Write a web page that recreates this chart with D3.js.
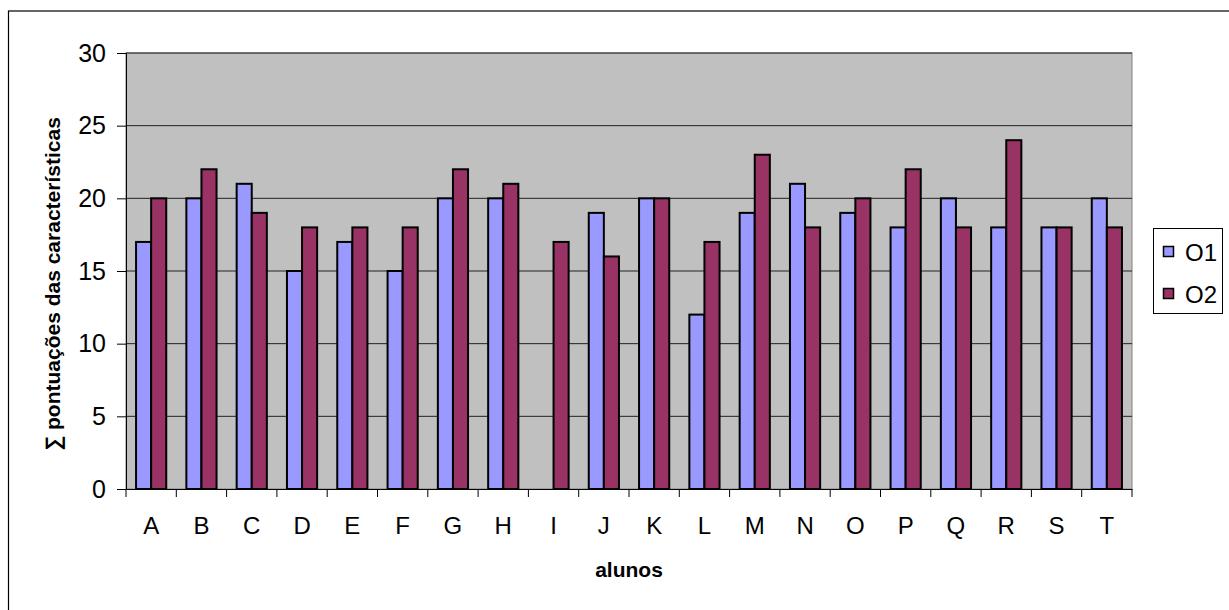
<!DOCTYPE html>
<html><head><meta charset="utf-8">
<script src="https://cdn.jsdelivr.net/npm/d3@7"></script>
<style>body{margin:0;background:#fff}svg{display:block}text{font-family:"Liberation Sans",Arial,sans-serif}</style>
</head><body><svg id="c" width="1229" height="610"></svg>
<script>
const categories = ["A","B","C","D","E","F","G","H","I","J","K","L","M","N","O","P","Q","R","S","T"];
const seriesNames = ["O1","O2"];
const o1 = [17,20,21,15,17,15,20,20,0,19,20,12,19,21,19,18,20,18,18,20];
const o2 = [20,22,19,18,18,18,22,21,17,16,20,17,23,18,20,22,18,24,18,18];
const yTicks = [0,5,10,15,20,25,30];
const colors = ["#9999FF","#993366"];
const yTitle = "∑ pontuações das características";
const xTitle = "alunos";

const svg = d3.select("#c");
svg.append("rect").attr("x",8.5).attr("y",11).attr("width",1230).attr("height",620)
  .attr("fill","#fff").attr("stroke","#000").attr("stroke-width",1.2);

const L=126, R=1132, T=53, B=489;
const x = d3.scaleBand().domain(categories).range([L,R]).paddingInner(0.4).paddingOuter(0.2);
const xb = d3.scaleBand().domain(categories).range([L,R]);
const xs = d3.scaleBand().domain(seriesNames).range([0,x.bandwidth()]);
const y = d3.scaleLinear().domain([0,30]).range([B,T]);

svg.append("rect").attr("x",L).attr("y",T).attr("width",R-L).attr("height",B-T)
  .attr("fill","#C0C0C0").attr("stroke","#808080").attr("stroke-width",1);

svg.append("g").selectAll("line").data(yTicks.filter(d=>d>0)).join("line")
  .attr("x1",L).attr("x2",R).attr("y1",d=>y(d)).attr("y2",d=>y(d))
  .attr("stroke","#222").attr("stroke-width",1);

const data = categories.map((c,i)=>({c, vals:[o1[i],o2[i]]}));
const g = svg.append("g");
data.forEach(d=>{
  d.vals.forEach((v,j)=>{
    if(v<=0) return;
    g.append("rect").attr("x",x(d.c)+xs(seriesNames[j])).attr("y",y(v))
      .attr("width",xs.bandwidth()).attr("height",y(0)-y(v))
      .attr("fill",colors[j]).attr("stroke","#000").attr("stroke-width",2);
  });
});

const ya = d3.axisLeft(y).tickValues(yTicks).tickSize(9).tickPadding(11);
const yg = svg.append("g").attr("transform",`translate(${L},0)`).call(ya);
yg.select(".domain").attr("stroke","#000");
yg.selectAll("line").attr("stroke","#000");
yg.selectAll("text").attr("font-size",25).attr("fill","#000").attr("font-family","Liberation Sans, Arial, sans-serif");

const xa = d3.axisBottom(xb).tickSize(0).tickPadding(28);
const xg = svg.append("g").attr("transform",`translate(0,${B})`).call(xa);
xg.select(".domain").attr("stroke","#000");
xg.selectAll("text").attr("font-size",24).attr("fill","#000").attr("font-family","Liberation Sans, Arial, sans-serif");
svg.append("g").selectAll("line").data(categories.concat(["_end"])).join("line")
  .attr("x1",(d,i)=> i<categories.length ? xb(d) : R).attr("x2",(d,i)=> i<categories.length ? xb(d) : R)
  .attr("y1",B).attr("y2",B+8).attr("stroke","#000");

svg.append("text").attr("x",(L+R)/2).attr("y",577).attr("text-anchor","middle")
  .attr("font-size",21).attr("font-weight","bold").text(xTitle);
svg.append("text").attr("transform",`translate(60,${(T+B)/2+13}) rotate(-90)`).attr("text-anchor","middle")
  .attr("font-size",21).attr("font-weight","bold").text(yTitle);

const lg = svg.append("g");
lg.append("rect").attr("x",1153.5).attr("y",228.5).attr("width",69).attr("height",85)
  .attr("fill","#fff").attr("stroke","#000");
seriesNames.forEach((s,i)=>{
  const cy = 252 + i*42;
  lg.append("rect").attr("x",1163.5).attr("y",cy-5.5).attr("width",10).attr("height",10)
    .attr("fill",colors[i]).attr("stroke","#000").attr("stroke-width",1.5);
  lg.append("text").attr("x",1185).attr("y",cy+8.5).attr("font-size",24).text(s);
});
</script></body></html>
